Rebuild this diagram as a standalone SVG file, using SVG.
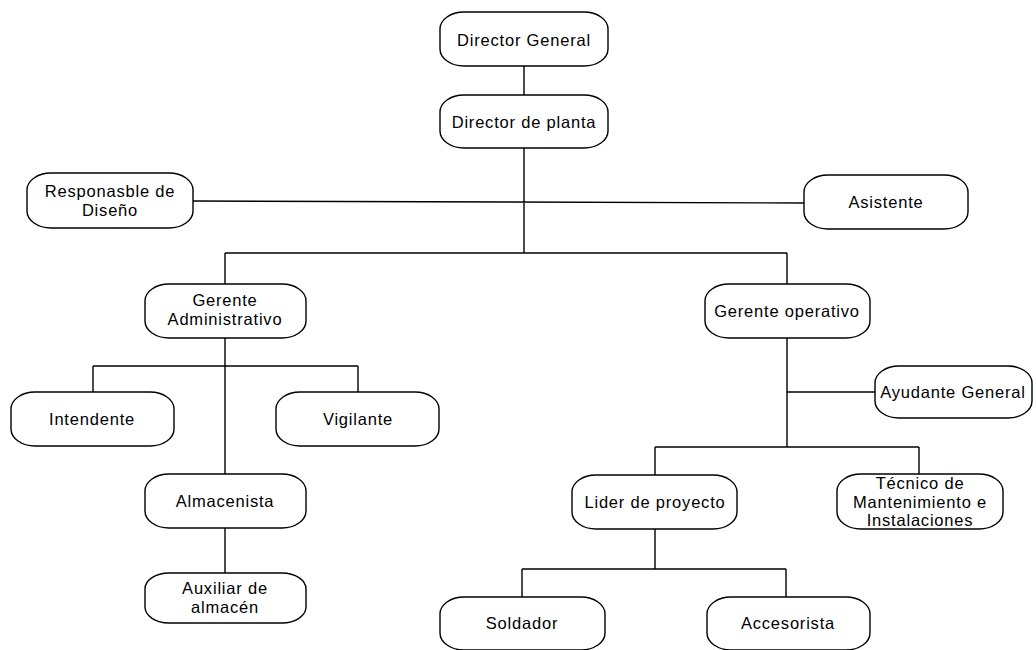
<svg xmlns="http://www.w3.org/2000/svg" width="1036" height="650" viewBox="0 0 1036 650">
<style>
.n{fill:#fff;stroke:#000;stroke-width:1.4}
.t{font-family:"Liberation Sans",Arial,sans-serif;font-size:16.5px;letter-spacing:0.8px;fill:#000;text-anchor:middle}
.c{stroke:#000;stroke-width:1.4;fill:none}
</style>
<rect width="1036" height="650" fill="#fff"/>
<g id="connectors">
<path class="c" d="M524,66V95M524,148V253M193,201L804,203M225,253H787M225,253V284M787,253V284M225,338V474M93,366H358M93,366V392M358,366V392M225,528V573M787,338V447M787,392H875M655,447H919M655,447V475M919,447V474M655,529V569M522,569H786M522,569V597M786,569V597"/>
</g>
<g id="director-general"><rect class="n" x="440" y="12" width="168" height="54" rx="24" ry="17"/><text class="t" x="524" y="46">Director General</text></g>
<g id="director-planta"><rect class="n" x="440" y="95" width="168" height="53" rx="24" ry="17"/><text class="t" x="524" y="128">Director de planta</text></g>
<g id="responsable-diseno"><rect class="n" x="27" y="173" width="166" height="55" rx="24" ry="17"/><text class="t" x="110" y="197">Responasble de</text><text class="t" x="110" y="216">Diseño</text></g>
<g id="asistente"><rect class="n" x="804" y="175" width="164" height="54" rx="24" ry="17"/><text class="t" x="886" y="208">Asistente</text></g>
<g id="gerente-admin"><rect class="n" x="145" y="284" width="161" height="54" rx="24" ry="17"/><text class="t" x="225" y="306">Gerente</text><text class="t" x="225" y="325">Administrativo</text></g>
<g id="gerente-operativo"><rect class="n" x="705" y="284" width="165" height="54" rx="24" ry="17"/><text class="t" x="787" y="317">Gerente operativo</text></g>
<g id="intendente"><rect class="n" x="11" y="392" width="163" height="54" rx="24" ry="17"/><text class="t" x="92" y="425">Intendente</text></g>
<g id="vigilante"><rect class="n" x="276" y="392" width="163" height="54" rx="24" ry="17"/><text class="t" x="358" y="425">Vigilante</text></g>
<g id="almacenista"><rect class="n" x="145" y="474" width="161" height="54" rx="24" ry="17"/><text class="t" x="225" y="507">Almacenista</text></g>
<g id="auxiliar-almacen"><rect class="n" x="145" y="573" width="161" height="50" rx="24" ry="16"/><text class="t" x="225" y="594">Auxiliar de</text><text class="t" x="225" y="613">almacén</text></g>
<g id="ayudante-general"><rect class="n" x="875" y="366" width="157" height="52" rx="24" ry="17"/><text class="t" x="953" y="398">Ayudante General</text></g>
<g id="lider-proyecto"><rect class="n" x="572" y="475" width="165" height="54" rx="24" ry="17"/><text class="t" x="655" y="508">Lider de proyecto</text></g>
<g id="tecnico"><rect class="n" x="837" y="474" width="166" height="55" rx="24" ry="17"/><text class="t" x="920" y="489">Técnico de</text><text class="t" x="920" y="508">Mantenimiento e</text><text class="t" x="920" y="526">Instalaciones</text></g>
<g id="soldador"><rect class="n" x="440" y="597" width="165" height="53" rx="24" ry="17"/><text class="t" x="522" y="629">Soldador</text></g>
<g id="accesorista"><rect class="n" x="707" y="597" width="163" height="53" rx="24" ry="17"/><text class="t" x="788" y="629">Accesorista</text></g>
</svg>
